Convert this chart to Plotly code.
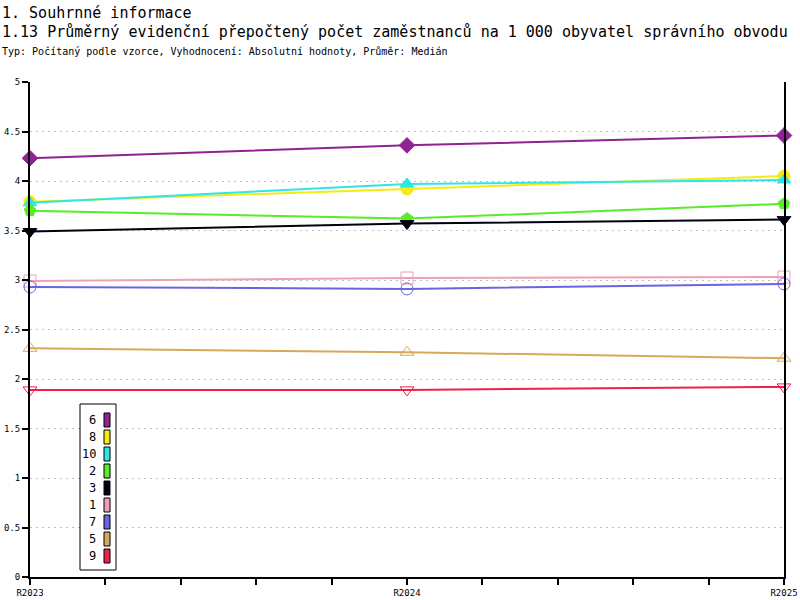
import plotly.graph_objects as go

# Data
periods = ["R2023", "R2024", "R2025"]
series_names = ["6", "8", "10", "2", "3", "1", "7", "5", "9"]
values_6 = [4.23, 4.36, 4.46]
values_8 = [3.79, 3.92, 4.05]
values_10 = [3.78, 3.97, 4.01]
values_2 = [3.70, 3.62, 3.77]
values_3 = [3.49, 3.57, 3.61]
values_1 = [2.99, 3.02, 3.03]
values_7 = [2.93, 2.91, 2.96]
values_5 = [2.31, 2.27, 2.21]
values_9 = [1.89, 1.89, 1.92]

series_values = [values_6, values_8, values_10, values_2, values_3,
                 values_1, values_7, values_5, values_9]
colors = ["#8E2391", "#F5EB14", "#2EE6E6", "#5AEB2A", "#00000F",
          "#F0A0B4", "#6A64E0", "#D8A85A", "#F01E4A"]
symbols = ["diamond", "circle", "triangle-up", "pentagon", "triangle-down",
           "square-open", "circle-open", "triangle-up-open", "triangle-down-open"]

y_ticks = [0, 0.5, 1, 1.5, 2, 2.5, 3, 3.5, 4, 4.5, 5]

MONO = "DejaVu Sans Mono"

# plot area in pixels
L, R, T, B = 30, 784, 82, 577


def px(x):
    return (x - L) / (R - L)


def py(y):
    return (B - y) / (B - T)


x_idx = list(range(len(periods)))

fig = go.Figure()
for name, vals, col, sym in zip(series_names, series_values, colors, symbols):
    fig.add_trace(go.Scatter(
        x=x_idx, y=vals, name=name, mode="lines+markers",
        line=dict(color=col, width=2),
        marker=dict(symbol=sym, size=12, color=col, line=dict(color=col, width=1)),
        cliponaxis=False, showlegend=False,
    ))

# hand-made legend: label on the left, swatch on the right
shapes = [dict(type="rect", xref="paper", yref="paper",
               x0=px(80), x1=px(116), y0=py(404), y1=py(570),
               line=dict(color="black", width=1), fillcolor="white", layer="above")]
annotations = []
for i, (name, col) in enumerate(zip(series_names, colors)):
    yc = 420 + i * 17
    shapes.append(dict(type="rect", xref="paper", yref="paper",
                       x0=px(104), x1=px(110), y0=py(yc - 7), y1=py(yc + 7),
                       line=dict(color="black", width=1), fillcolor=col, layer="above"))
    annotations.append(dict(xref="paper", yref="paper", x=px(98), y=py(yc),
                            xanchor="right", yanchor="middle", showarrow=False,
                            text=name, font=dict(family=MONO, size=12, color="black")))

# titles
titles = [
    ("1. Souhrnné informace", 13, 15),
    ("1.13 Průměrný evidenční přepočtený počet zaměstnanců na 1 000 obyvatel správního obvodu", 32, 15),
    ("Typ: Počítaný podle vzorce, Vyhodnocení: Absolutní hodnoty, Průměr: Medián", 51, 10),
]
for text, yc, size in titles:
    annotations.append(dict(xref="paper", yref="paper", x=px(0), y=py(yc),
                            xanchor="left", yanchor="middle", showarrow=False,
                            text=text, font=dict(family=MONO, size=size, color="black")))

x_tickvals = [i / 5 for i in range(11)]
x_ticktext = [periods[i // 5] if i % 5 == 0 else "" for i in range(11)]

fig.update_layout(
    width=800, height=600,
    margin=dict(l=L, r=800 - R, t=T, b=600 - B, pad=0),
    plot_bgcolor="white", paper_bgcolor="white",
    shapes=shapes, annotations=annotations,
    font=dict(family=MONO, color="black"),
)
fig.update_xaxes(
    range=[0, 2], tickvals=x_tickvals, ticktext=x_ticktext, automargin=False,
    showgrid=False, zeroline=False, showline=True, linecolor="black", linewidth=2,
    ticks="outside", ticklen=6, tickcolor="black", tickwidth=2,
    tickfont=dict(family=MONO, size=9, color="black"),
)
fig.update_yaxes(
    range=[0, 5], tickvals=y_ticks, automargin=False,
    showgrid=True, gridcolor="#BEBEBE", griddash="2px,4px", gridwidth=1,
    zeroline=False, showline=True, mirror=True, linecolor="black", linewidth=2,
    ticks="outside", ticklen=6, tickcolor="black", tickwidth=2,
    tickfont=dict(family=MONO, size=9, color="black"),
)

# drop the browser's default page margin so the figure sits at 0,0
fig.write_html("out.html", config={"displayModeBar": False},
               post_script="document.body.style.margin='0';")
